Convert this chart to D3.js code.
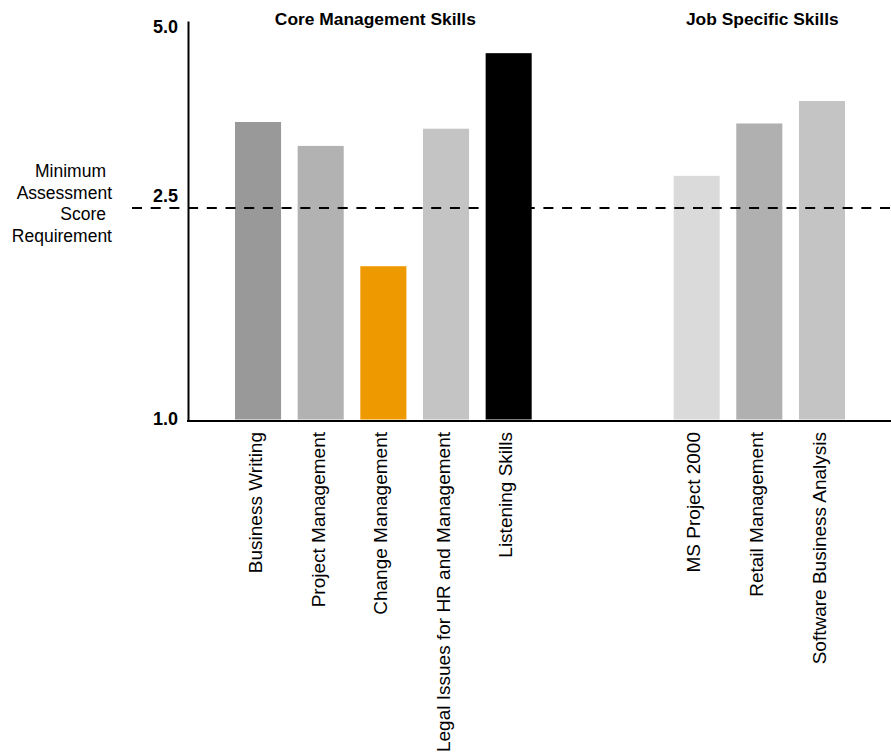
<!DOCTYPE html>
<html>
<head>
<meta charset="utf-8">
<script src="https://cdn.jsdelivr.net/npm/d3@7"></script>
<style>
  body { margin: 0; background: #fff; }
  svg text { font-family: "Liberation Sans", Arial, sans-serif; }
</style>
</head>
<body>
<div id="chart"></div>
<script>
(function() {
"use strict";

// skills, in order, with blank slots between the two groups
const skills = ["Business Writing", "Project Management", "Change Management",
                "Legal Issues for HR and Management", "Listening Skills",
                "MS Project 2000", "Retail Management", "Software Business Analysis"];
const groupOf = ["core", "core", "core", "core", "core", "job", "job", "job"];
const scores = [3.65, 3.33, 2.09, 3.56, 4.57, 2.93, 3.63, 3.93];
const barColors = ["#999999", "#b2b2b2", "#ef9900", "#c4c4c4", "#000000",
                   "#dadada", "#b0b0b0", "#c4c4c4"];

const groupKeys = ["core", "job"];
const groupTitles = ["Core Management Skills", "Job Specific Skills"];

const yTicks = [1.0, 2.5, 5.0];
const minimumScore = 2.5;
const minimumLabel = ["Minimum", "Assessment", "Score", "Requirement"];

const WIDTH = 891;
const HEIGHT = 754;

const slots = skills.slice(0, 5).concat(["_gap1", "_gap2"], skills.slice(5));
const data = skills.map((s, i) => ({ name: s, group: groupOf[i], score: scores[i], color: barColors[i] }));

const SVG = d3.select("#chart")
              .append("svg")
              .attr("width", WIDTH)
              .attr("height", HEIGHT);

// the value axis is drawn with the threshold at its own break point
const yScale = d3.scaleLinear()
                 .domain([1, 2.5, 5])
                 .range([421, 208, 21]);

const xScale = d3.scaleBand()
                 .domain(slots)
                 .range([226.7, 853.3])
                 .paddingInner(0.265)
                 .paddingOuter(0.1325);

const axisX = 188;

// bars
SVG.append("g")
  .selectAll("rect")
  .data(data)
  .enter()
  .append("rect")
    .attr("x", (d) => xScale(d.name))
    .attr("y", (d) => yScale(d.score))
    .attr("width", xScale.bandwidth())
    .attr("height", (d) => yScale(1) - 1.5 - yScale(d.score))
    .attr("fill", (d) => d.color);

// minimum requirement line
SVG.append("line")
  .attr("x1", 132)
  .attr("x2", WIDTH)
  .attr("y1", yScale(minimumScore))
  .attr("y2", yScale(minimumScore))
  .attr("stroke", "#000")
  .attr("stroke-width", 2)
  .attr("stroke-dasharray", "10,8.7");

// y axis
const yAxis = d3.axisLeft(yScale)
                .tickValues(yTicks)
                .tickSize(0)
                .tickSizeOuter(0)
                .tickPadding(10)
                .tickFormat(d3.format(".1f"));

const yG = SVG.append("g")
  .attr("transform", `translate(${axisX}, 0)`)
  .call(yAxis);

yG.select(".domain").attr("stroke", "#000").attr("stroke-width", 2);
yG.selectAll(".tick text")
  .attr("font-family", "'Liberation Sans', Arial, sans-serif")
  .attr("font-size", 18)
  .attr("font-weight", "bold")
  .attr("fill", "#000")
  .attr("dy", (d) => d === 5 ? "0.62em" : (d === 2.5 ? "-0.35em" : "0.22em"));

// x baseline
SVG.append("line")
  .attr("x1", axisX - 1)
  .attr("x2", WIDTH)
  .attr("y1", yScale(1))
  .attr("y2", yScale(1))
  .attr("stroke", "#000")
  .attr("stroke-width", 2);

// category labels
const xAxis = d3.axisBottom(xScale)
                .tickSize(0)
                .tickSizeOuter(0)
                .tickFormat((d) => d.startsWith("_") ? "" : d);

const xG = SVG.append("g")
  .attr("transform", `translate(0, ${yScale(1)})`)
  .call(xAxis);

xG.select(".domain").remove();
xG.selectAll(".tick text")
  .attr("font-family", "'Liberation Sans', Arial, sans-serif")
  .attr("font-size", 19)
  .attr("fill", "#000")
  .attr("text-anchor", "end")
  .attr("transform", "rotate(-90)")
  .attr("x", -11)
  .attr("y", 0)
  .attr("dy", "0.2em");

// group titles
const titleShift = [-8, 3];
groupKeys.forEach((g, i) => {
  const members = data.filter((d) => d.group === g);
  const left = xScale(members[0].name);
  const right = xScale(members[members.length - 1].name) + xScale.bandwidth();
  SVG.append("text")
    .attr("x", (left + right) / 2 + titleShift[i])
    .attr("y", 25)
    .attr("text-anchor", "middle")
    .attr("font-size", 17.4)
    .attr("font-weight", "bold")
    .attr("fill", "#000")
    .text(groupTitles[i]);
});

// threshold label
const note = SVG.append("text")
  .attr("text-anchor", "end")
  .attr("font-size", 17.5)
  .attr("fill", "#000");

note.selectAll("tspan")
  .data(minimumLabel)
  .enter()
  .append("tspan")
    .attr("x", (d, i) => i % 2 === 0 ? 106 : 112)
    .attr("y", (d, i) => 177 + i * 21.5)
    .text((d) => d);

})();
</script>
</body>
</html>
